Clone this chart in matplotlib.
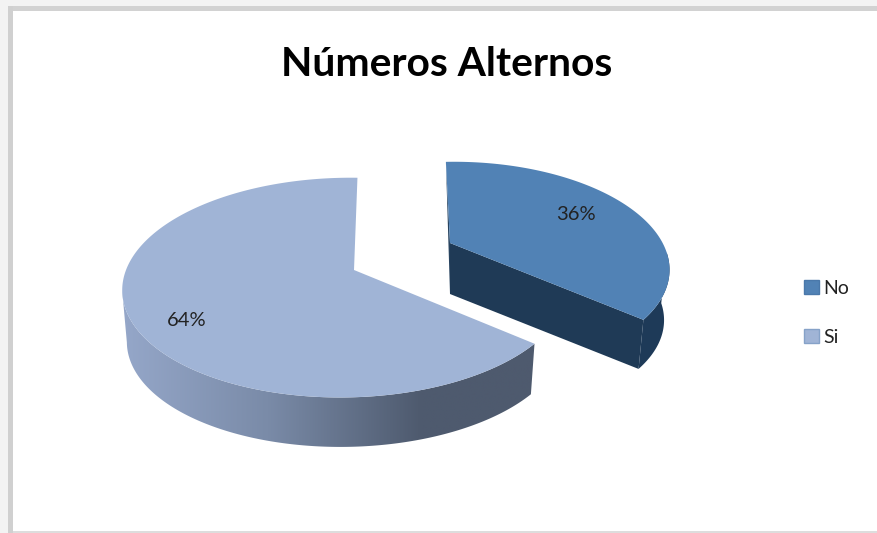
import numpy as np
import matplotlib
matplotlib.use("Agg")
import matplotlib.pyplot as plt
from matplotlib.patches import PathPatch, Rectangle, Patch
from matplotlib.path import Path
from matplotlib.colors import LinearSegmentedColormap

title = "Números Alternos"
categories = ["No", "Si"]
shares = [36, 64]
top_colors = ["#5182b5", "#a0b4d6"]
edge_colors = ["#4a78aa", "#86a2c8"]

plt.rcParams["font.family"] = ["Lato", "DejaVu Sans"]

fig = plt.figure(figsize=(8.77, 5.33), dpi=100)
ax = fig.add_axes([0, 0, 1, 1])
ax.set_xlim(0, 877)
ax.set_ylim(533, 0)
ax.axis("off")

# Worksheet chrome around the chart area
ax.add_patch(Rectangle((0, 0), 877, 6, fc="#f3f3f3", ec="none"))
ax.add_patch(Rectangle((0, 0), 8, 533, fc="#f3f3f3", ec="none"))
ax.add_patch(Rectangle((8, 6), 869, 5, fc="#d2d2d2", ec="none"))
ax.add_patch(Rectangle((8, 6), 5, 527, fc="#d0d0d0", ec="none"))
ax.add_patch(Rectangle((13, 531), 864, 2, fc="#dddddd", ec="none"))

# Perspective settings for each slice
views = {
    "No": dict(cx=450, cy=243, A=202, B=99, p=0.22, q=-0.05, s=-5, depth=51, shrink=0.975),
    "Si": dict(cx=354, cy=270, A=220, B=107, p=0.16, q=0.035, s=4, depth=52, shrink=0.98),
}


def project(t, r, v, lower=False):
    """Map a polar disc position (clockwise from 12 o'clock) on to the page."""
    u0 = r * np.sin(t)
    v0 = r * np.cos(t)
    w = 1 + v["p"] * v0 + v["q"] * u0
    k = v["shrink"] if lower else 1.0
    x = v["cx"] + k * (v["A"] * u0 + v["s"] * v0) / w
    y = v["cy"] - k * v["B"] * v0 / w + (v["depth"] if lower else 0)
    return np.asarray(x), np.asarray(y)


def poly(xs, ys, **kw):
    xy = np.column_stack([xs, ys])
    patch = PathPatch(Path(np.vstack([xy, xy[0]]), closed=True), lw=0, **kw)
    ax.add_patch(patch)
    return patch


fractions = np.cumsum([0] + shares) / sum(shares)
spans = [(2 * np.pi * a, 2 * np.pi * b) for a, b in zip(fractions[:-1], fractions[1:])]

# "No" slice: cut face, rim and top
v = views["No"]
t0, t1 = spans[0]
ts = np.linspace(t0, t1, 200)
navy = "#1f3a56"
ax0, ay0 = project(np.array(0.0), 0.0, v)
bx0, by0 = project(np.array(0.0), 0.0, v, lower=True)
rx, ry = project(np.array(t1), 1.0, v)
qx, qy = project(np.array(t1), 1.0, v, lower=True)
poly([ax0, rx, qx, bx0], [ay0, ry, qy, by0], fc=navy)
sx, sy = project(np.array(t0), 1.0, v)
poly([sx, ax0, bx0], [sy, ay0, by0], fc="#27435f")
tx, ty = project(ts, 1.0, v)
lx, ly = project(ts, 1.0, v, lower=True)
keep = ts > np.radians(95)
poly(np.r_[tx[keep], lx[keep][::-1]], np.r_[ty[keep], ly[keep][::-1]], fc="#1e3a58")
poly(np.r_[ax0, tx], np.r_[ay0, ty], fc=top_colors[0])

# "Si" slice: shaded rim, then top
v = views["Si"]
t0, t1 = spans[1]
ts = np.linspace(t0, t1, 400)
tx, ty = project(ts, 1.0, v)
lx, ly = project(ts, 1.0, v, lower=True)
keep = ty >= ty[np.argmin(tx)] - 1
keep |= ts < np.pi
rim = poly(np.r_[tx[keep], lx[keep][::-1]], np.r_[ty[keep], ly[keep][::-1]], fc="none")
shade = LinearSegmentedColormap.from_list(
    "rim", [(0, "#95a7c9"), (0.35, "#7a8ba8"), (0.72, "#4e5a6e"), (1, "#4e5a6e")]
)
img = ax.imshow(
    np.linspace(0, 1, 256)[None, :],
    extent=(122, 538, 460, 280),
    cmap=shade,
    aspect="auto",
    zorder=2,
)
img.set_clip_path(rim)
ax.set_xlim(0, 877)
ax.set_ylim(533, 0)
ax0, ay0 = project(np.array(0.0), 0.0, v)
poly(np.r_[ax0, tx], np.r_[ay0, ty], fc=top_colors[1], zorder=3)

ax.text(447, 65, title, ha="center", va="center", fontsize=29.3, fontweight="bold", color="black")

# Percentage labels
for name, share, pos in zip(categories, shares, [(576, 214), (187, 321)]):
    ax.text(pos[0], pos[1], f"{share}%", ha="center", va="center", fontsize=14.5,
            color="#222222", zorder=5)

handles = [Patch(fc=c, ec=e, lw=1) for c, e in zip(top_colors, edge_colors)]
ax.legend(
    handles, categories, loc="center left", bbox_to_anchor=(804 / 877, 1 - 313 / 533),
    frameon=False, fontsize=14, handlelength=0.78, handleheight=0.75, handletextpad=0.2,
    labelspacing=1.65, borderpad=0, borderaxespad=0, labelcolor="#222222",
)

fig.savefig("out.png", dpi=100)
